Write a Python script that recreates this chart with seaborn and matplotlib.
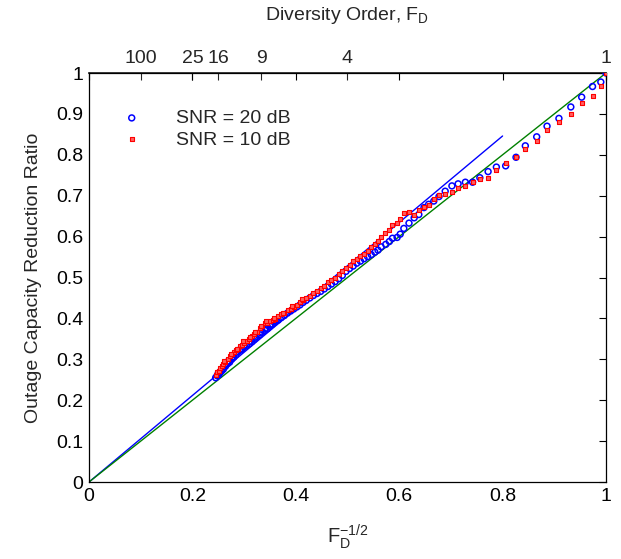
import matplotlib
matplotlib.use("Agg")
import matplotlib.pyplot as plt
import seaborn as sns
import pandas as pd

# ---- data ----
snr20_x = [0.245, 0.248, 0.251, 0.254, 0.257, 0.260, 0.264, 0.268, 0.272, 0.276,
           0.280, 0.284, 0.288, 0.292, 0.296, 0.300, 0.305, 0.310, 0.315, 0.320,
           0.325, 0.330, 0.335, 0.340, 0.345, 0.350, 0.355, 0.360, 0.366, 0.372,
           0.378, 0.384, 0.390, 0.396, 0.402, 0.408, 0.414, 0.420, 0.427, 0.434,
           0.441, 0.448, 0.455, 0.462, 0.469, 0.476, 0.483, 0.490, 0.497, 0.504,
           0.511, 0.518, 0.525, 0.532, 0.539, 0.546, 0.553, 0.559,
           0.565, 0.574, 0.581, 0.587, 0.596, 0.602, 0.609, 0.619, 0.629, 0.638,
           0.648, 0.657, 0.667, 0.677, 0.689, 0.702, 0.714, 0.728, 0.742, 0.756,
           0.772, 0.788, 0.806, 0.826, 0.844, 0.866, 0.886, 0.909, 0.932, 0.953,
           0.974, 0.990, 1.000,
           0.250, 0.256, 0.262, 0.270, 0.278, 0.286, 0.294, 0.302, 0.312, 0.322,
           0.332, 0.342, 0.352, 0.362]
snr20_y = [0.255, 0.260, 0.262, 0.268, 0.272, 0.276, 0.283, 0.289, 0.293, 0.300,
           0.305, 0.311, 0.318, 0.322, 0.325, 0.330, 0.334, 0.338, 0.343, 0.349,
           0.356, 0.360, 0.366, 0.371, 0.375, 0.381, 0.386, 0.391, 0.396, 0.402,
           0.407, 0.413, 0.418, 0.423, 0.428, 0.433, 0.439, 0.444, 0.450, 0.456,
           0.461, 0.466, 0.472, 0.478, 0.484, 0.490, 0.497, 0.505, 0.515, 0.522,
           0.528, 0.535, 0.540, 0.546, 0.551, 0.556, 0.562, 0.567,
           0.575, 0.581, 0.588, 0.596, 0.598, 0.606, 0.620, 0.633, 0.646, 0.654,
           0.671, 0.679, 0.687, 0.698, 0.711, 0.724, 0.729, 0.733, 0.733, 0.744,
           0.759, 0.770, 0.773, 0.794, 0.822, 0.844, 0.870, 0.889, 0.917, 0.941,
           0.967, 0.978, 1.000,
           0.266, 0.274, 0.284, 0.296, 0.306, 0.318, 0.326, 0.336, 0.344, 0.354,
           0.366, 0.376, 0.384, 0.394]

snr10_x = [0.245, 0.248, 0.251, 0.254, 0.257, 0.260, 0.264, 0.268, 0.272, 0.276,
           0.280, 0.284, 0.288, 0.292, 0.296, 0.300, 0.305, 0.310, 0.315, 0.320,
           0.325, 0.330, 0.335, 0.340, 0.345, 0.350, 0.355, 0.360, 0.366, 0.372,
           0.378, 0.384, 0.390, 0.396, 0.402, 0.408, 0.414, 0.420, 0.427, 0.434,
           0.441, 0.448, 0.455, 0.462, 0.469, 0.476, 0.483, 0.490, 0.497, 0.504,
           0.511, 0.518, 0.525, 0.532, 0.539, 0.546, 0.553, 0.559,
           0.565, 0.572, 0.580, 0.587, 0.596, 0.602, 0.609, 0.619, 0.629, 0.638,
           0.648, 0.657, 0.667, 0.677, 0.689, 0.702, 0.714, 0.728, 0.742, 0.756,
           0.772, 0.788, 0.806, 0.826, 0.844, 0.866, 0.886, 0.909, 0.932, 0.953,
           0.974, 0.990, 1.000,
           0.262, 0.274, 0.286, 0.298, 0.312, 0.322, 0.332, 0.343, 0.358, 0.375,
           0.393, 0.412]
snr10_y = [0.262, 0.268, 0.272, 0.278, 0.283, 0.288, 0.294, 0.301, 0.307, 0.312,
           0.318, 0.322, 0.326, 0.332, 0.336, 0.341, 0.346, 0.350, 0.356, 0.361,
           0.368, 0.376, 0.382, 0.388, 0.390, 0.393, 0.396, 0.399, 0.405, 0.410,
           0.414, 0.420, 0.424, 0.429, 0.434, 0.440, 0.446, 0.450, 0.456, 0.462,
           0.468, 0.474, 0.480, 0.488, 0.494, 0.500, 0.508, 0.516, 0.524, 0.530,
           0.540, 0.546, 0.552, 0.558, 0.566, 0.574, 0.582, 0.590,
           0.598, 0.608, 0.616, 0.628, 0.634, 0.642, 0.657, 0.659, 0.652, 0.664,
           0.672, 0.677, 0.691, 0.702, 0.703, 0.710, 0.720, 0.724, 0.733, 0.740,
           0.743, 0.762, 0.779, 0.794, 0.814, 0.834, 0.860, 0.880, 0.900, 0.926,
           0.944, 0.968, 1.000,
           0.296, 0.312, 0.326, 0.344, 0.354, 0.368, 0.382, 0.394, 0.402, 0.414,
           0.430, 0.448]

fit_x = [0.0, 0.8]
fit_y = [0.0, 0.846]
ref_x = [0.0, 1.0]
ref_y = [0.0, 1.0]

top_ticks = [0.1, 0.2, 0.25, 1 / 3, 0.5, 1.0]
top_labels = ["100", "25", "16", "9", "4", "1"]
bottom_ticks = [0, 0.2, 0.4, 0.6, 0.8, 1]
left_ticks = [0, 0.1, 0.2, 0.3, 0.4, 0.5, 0.6, 0.7, 0.8, 0.9, 1]

# ---- style ----
sns.set_theme(style="white")
plt.rcParams["font.family"] = ["Liberation Sans", "DejaVu Sans"]
plt.rcParams["mathtext.fontset"] = "custom"
plt.rcParams["mathtext.rm"] = "Liberation Sans"
plt.rcParams["mathtext.it"] = "Liberation Sans"
plt.rcParams["mathtext.default"] = "regular"

fig = plt.figure(figsize=(6.21, 5.59), dpi=100)
ax = fig.add_axes([0.1433, 0.1377, 0.8325, 0.7317])

df20 = pd.DataFrame({"x": snr20_x, "y": snr20_y})
df10 = pd.DataFrame({"x": snr10_x, "y": snr10_y})

sns.lineplot(x=fit_x, y=fit_y, ax=ax, color=(0, 0, 1), linewidth=1.0, zorder=2)
sns.lineplot(x=ref_x, y=ref_y, ax=ax, color=(0, 0.5, 0), linewidth=1.0, zorder=2)

sns.scatterplot(data=df20, x="x", y="y", ax=ax, marker="o", s=18,
                facecolor="none", edgecolor=(0, 0, 1), linewidth=1.1,
                label="SNR = 20 dB", zorder=3)
sns.scatterplot(data=df10, x="x", y="y", ax=ax, marker="s", s=8,
                color="#ff6060", edgecolor=(1, 0, 0), linewidth=0.8,
                label="SNR = 10 dB", zorder=4)

ax.set_xlim(0, 1)
ax.set_ylim(0, 1)
ax.set_xticks(bottom_ticks)
ax.set_xticklabels(["0", "0.2", "0.4", "0.6", "0.8", "1"])
ax.set_yticks(left_ticks)
ax.set_yticklabels(["0", "0.1", "0.2", "0.3", "0.4", "0.5", "0.6", "0.7", "0.8", "0.9", "1"])
ax.tick_params(direction="in", length=5, width=0.8, top=True, right=True,
               labelsize=14, colors="black", pad=4)
for sp in ax.spines.values():
    sp.set_color("black")
    sp.set_linewidth(0.9)

ax.set_xlabel(r"$F_D^{-1/2}$", fontsize=14.5, labelpad=13)
ax.set_ylabel("Outage Capacity Reduction Ratio", fontsize=14, labelpad=10)

sec = ax.secondary_xaxis("top")
sec.set_xticks(top_ticks)
sec.set_xticklabels(top_labels)
sec.tick_params(direction="in", length=5, width=0.8, labelsize=14, pad=4)
sec.set_xlabel(r"Diversity Order, $F_D$", fontsize=14, labelpad=22)

leg = ax.legend(loc="upper left", bbox_to_anchor=(0.03, 0.93), frameon=False,
                fontsize=14, handletextpad=1.3, labelspacing=0.2,
                markerscale=1.0, borderaxespad=0)

fig.savefig("out.png", dpi=100)
